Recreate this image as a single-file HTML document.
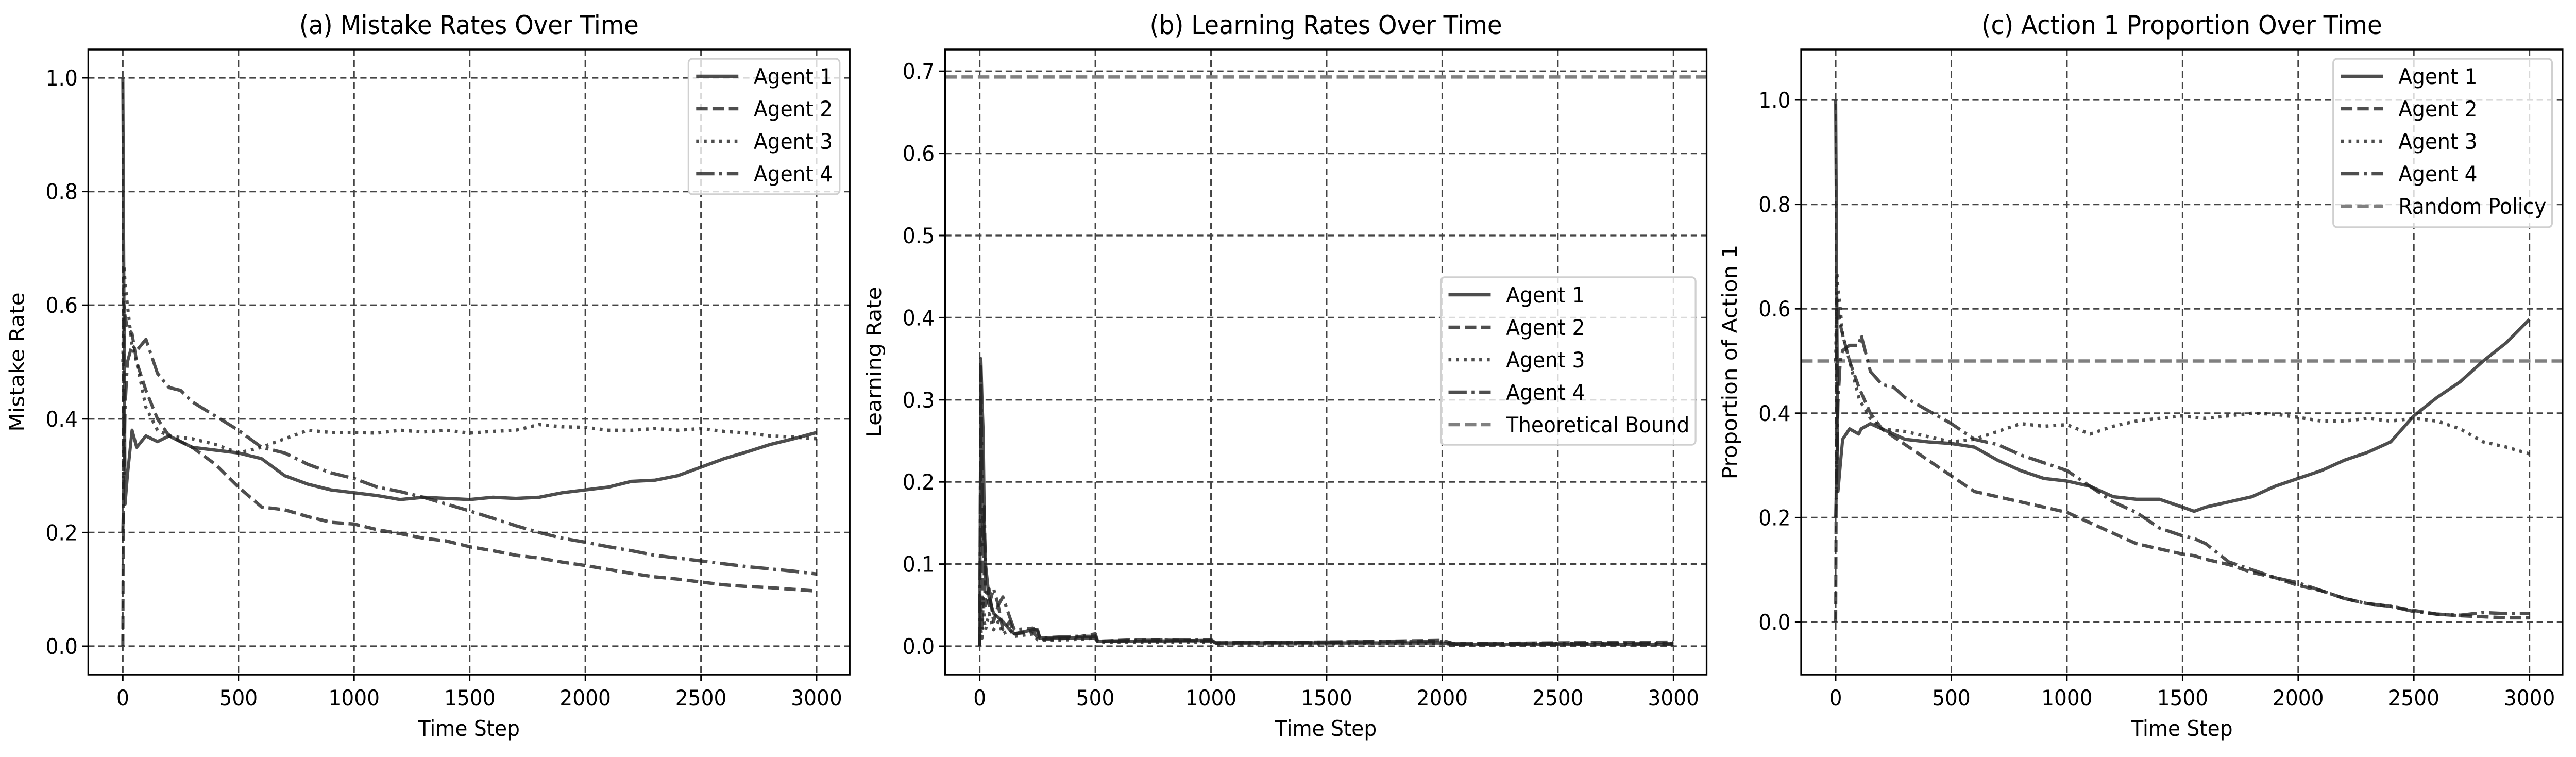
<!DOCTYPE html>
<html><head><meta charset="utf-8">
<meta name="viewport" content="width=5369">
<style>
html,body{margin:0;padding:0;background:#fff;width:100%;height:100%;overflow:hidden;}
svg{display:block;position:fixed;left:0;top:0;width:100vw;height:100vh;font-family:"DejaVu Sans","Liberation Sans",sans-serif;}
</style></head>
<body>
<svg id="fig" viewBox="0 0 5369 1469" preserveAspectRatio="none" xmlns="http://www.w3.org/2000/svg">
<rect width="5369" height="1469" fill="#fff"/>
</svg>
<script>
// ---------- data ----------
const stepsA = [0,5,10,20,40,60,100,150,200,250,300,400,500,600,700,800,900,1000,1100,1200,1300,1400,1500,1600,1700,1800,1900,2000,2100,2200,2300,2400,2500,2600,2700,2800,2900,3000];
const mistakeAgent1 = [1.0,0.6,0.25,0.30,0.38,0.35,0.37,0.36,0.37,0.36,0.35,0.345,0.34,0.33,0.30,0.285,0.275,0.27,0.265,0.258,0.262,0.26,0.258,0.262,0.26,0.262,0.27,0.275,0.28,0.29,0.292,0.30,0.315,0.33,0.342,0.355,0.365,0.376];
const mistakeAgent2 = [0.0,0.60,0.58,0.56,0.55,0.50,0.45,0.40,0.37,0.36,0.35,0.32,0.28,0.245,0.24,0.228,0.218,0.215,0.205,0.198,0.19,0.185,0.175,0.168,0.16,0.155,0.148,0.142,0.135,0.128,0.122,0.118,0.113,0.108,0.105,0.103,0.10,0.097];
const mistakeAgent3 = [0.5,0.67,0.64,0.60,0.53,0.50,0.42,0.38,0.37,0.367,0.365,0.355,0.34,0.35,0.365,0.38,0.376,0.376,0.375,0.38,0.377,0.38,0.375,0.378,0.38,0.39,0.386,0.385,0.38,0.38,0.383,0.38,0.383,0.378,0.375,0.37,0.368,0.365];
const mistakeAgent4 = [0.2,0.3,0.42,0.50,0.53,0.52,0.54,0.48,0.455,0.45,0.43,0.405,0.38,0.35,0.34,0.32,0.305,0.295,0.28,0.272,0.262,0.25,0.238,0.225,0.212,0.20,0.19,0.183,0.175,0.168,0.16,0.155,0.15,0.145,0.14,0.136,0.132,0.127];

const stepsB = [0,5,10,15,20,25,40,60,80,100,130,150,230,250,260,400,500,510,700,1000,1020,1500,2000,2050,2500,3000];
const lrAgent1 = [0.0,0.35,0.30,0.26,0.15,0.10,0.06,0.04,0.035,0.03,0.02,0.015,0.02,0.02,0.01,0.01,0.01,0.006,0.006,0.007,0.004,0.004,0.004,0.002,0.002,0.002];
const lrAgent2 = [0.0,0.05,0.02,0.17,0.08,0.05,0.07,0.03,0.05,0.02,0.03,0.015,0.018,0.01,0.008,0.01,0.015,0.006,0.008,0.006,0.004,0.005,0.007,0.003,0.004,0.005];
const lrAgent3 = [0.0,0.02,0.01,0.06,0.03,0.02,0.04,0.02,0.03,0.015,0.02,0.012,0.015,0.008,0.007,0.008,0.01,0.005,0.005,0.005,0.003,0.003,0.004,0.002,0.003,0.003];
const lrAgent4 = [0.0,0.34,0.20,0.12,0.17,0.07,0.05,0.07,0.05,0.06,0.035,0.02,0.022,0.018,0.01,0.012,0.012,0.006,0.007,0.008,0.004,0.005,0.006,0.003,0.003,0.003];
const theoreticalBound = 0.693;

const stepsC = [0,5,10,20,30,60,100,110,150,200,250,300,400,500,600,700,800,900,1000,1100,1200,1300,1400,1500,1550,1600,1700,1800,1900,2000,2100,2200,2300,2400,2500,2600,2700,2800,2900,3000];
const propAgent1 = [1.0,0.6,0.25,0.30,0.35,0.37,0.36,0.37,0.38,0.37,0.36,0.35,0.345,0.342,0.335,0.31,0.29,0.275,0.27,0.26,0.24,0.235,0.235,0.22,0.212,0.22,0.23,0.24,0.26,0.275,0.29,0.31,0.325,0.345,0.395,0.43,0.46,0.50,0.535,0.58];
const propAgent2 = [0.0,0.62,0.60,0.57,0.55,0.50,0.45,0.44,0.40,0.37,0.355,0.34,0.31,0.28,0.25,0.24,0.23,0.22,0.21,0.19,0.17,0.15,0.14,0.13,0.127,0.12,0.11,0.095,0.085,0.07,0.06,0.045,0.035,0.03,0.022,0.015,0.012,0.01,0.008,0.008];
const propAgent3 = [0.5,0.67,0.64,0.60,0.55,0.50,0.43,0.42,0.39,0.37,0.367,0.365,0.355,0.345,0.35,0.365,0.38,0.375,0.378,0.36,0.375,0.385,0.39,0.395,0.392,0.39,0.395,0.40,0.398,0.392,0.385,0.385,0.39,0.385,0.39,0.385,0.37,0.345,0.335,0.322];
const propAgent4 = [0.2,0.3,0.42,0.50,0.52,0.53,0.53,0.55,0.48,0.455,0.45,0.43,0.405,0.38,0.35,0.34,0.32,0.305,0.29,0.26,0.23,0.21,0.18,0.165,0.16,0.15,0.115,0.10,0.085,0.075,0.06,0.045,0.035,0.03,0.02,0.015,0.013,0.018,0.016,0.016];
const randomPolicy = 0.5;

const xTicks = [0,500,1000,1500,2000,2500,3000];
const yTicksA = ["0.0","0.2","0.4","0.6","0.8","1.0"];
const yTicksB = ["0.0","0.1","0.2","0.3","0.4","0.5","0.6","0.7"];
const yTicksC = ["0.0","0.2","0.4","0.6","0.8","1.0"];
const legendLabelsA = ["Agent 1","Agent 2","Agent 3","Agent 4"];
const legendLabelsB = ["Agent 1","Agent 2","Agent 3","Agent 4","Theoretical Bound"];
const legendLabelsC = ["Agent 1","Agent 2","Agent 3","Agent 4","Random Policy"];

// ---------- drawing ----------
const NS = "http://www.w3.org/2000/svg";
const svg = document.getElementById('fig');
function mk(tag, attrs, parent){
  const e = document.createElementNS(NS, tag);
  for (const k in attrs) e.setAttribute(k, attrs[k]);
  (parent||svg).appendChild(e);
  return e;
}
const styles = [
  {dash:"", w:6.5},
  {dash:"24 10", w:6.5},
  {dash:"6 10", w:6.5},
  {dash:"38 10 6 10", w:6.5}
];
const refStyle = {dash:"24 10", w:6.5, color:"#808080"};

function panel(cfg){
  const g = mk('g', {});
  
  
  const L=cfg.left, R=cfg.left+1587, T=96, B=1309;
  const xs = v => cfg.x0 + (v/3000)*1446;
  const ys = v => cfg.yZero - v*cfg.yUnit;
  const cid = 'clip-'+cfg.name;
  const cp = mk('clipPath', {id:cid}, g);
  mk('rect', {x:L, y:T, width:R-L, height:B-T}, cp);
  xTicks.forEach(t=>{
    const l = mk('line',{x1:xs(t),x2:xs(t),y1:T,y2:B,stroke:'#444','stroke-width':3.2,'stroke-dasharray':'13 8'},g);
    
    
  });
  cfg.yTicks.forEach(t=>{
    const v=parseFloat(t);
    const l = mk('line',{x1:L,x2:R,y1:ys(v),y2:ys(v),stroke:'#444','stroke-width':3.2,'stroke-dasharray':'13 8'},g);
    
    
  });
  const plot = mk('g',{'clip-path':'url(#'+cid+')'},g);
  if (cfg.ref!==undefined){
    const l = mk('line',{x1:L,x2:R,y1:ys(cfg.ref),y2:ys(cfg.ref),stroke:refStyle.color,'stroke-width':refStyle.w,'stroke-dasharray':refStyle.dash},plot);
    
    
  }
  cfg.series.forEach((vals,i)=>{
    const d = vals.map((v,j)=>(j?'L':'M')+xs(cfg.steps[j]).toFixed(1)+','+ys(v).toFixed(1)).join(' ');
    const p = mk('path',{d:d,fill:'none',stroke:'#222','stroke-opacity':0.8,'stroke-width':styles[i].w,'stroke-dasharray':styles[i].dash,'stroke-linejoin':'round'},plot);
    
    
  });
  const fr = mk('rect',{x:L,y:T,width:R-L,height:B-T,fill:'none',stroke:'#000','stroke-width':3.5},g);
  
  
  xTicks.forEach(t=>{
    mk('line',{x1:xs(t),x2:xs(t),y1:B,y2:B+13,stroke:'#000','stroke-width':3},g);
    const tx = mk('text',{x:xs(t),y:B+60,'font-size':42,'text-anchor':'middle'},g);
    tx.textContent = t;
    
    
  });
  cfg.yTicks.forEach(t=>{
    const v=parseFloat(t);
    mk('line',{x1:L-13,x2:L,y1:ys(v),y2:ys(v),stroke:'#000','stroke-width':3},g);
    const tx = mk('text',{x:L-22,y:ys(v)+15,'font-size':42,'text-anchor':'end'},g);
    tx.textContent = t;
    
    
  });
  const title = mk('text',{x:(L+R)/2,y:66,'font-size':50,'text-anchor':'middle'},g);
  title.textContent = cfg.title;
  
  
  const xl = mk('text',{x:(L+R)/2,y:1428,'font-size':42,'text-anchor':'middle'},g);
  xl.textContent = 'Time Step';
  
  
  const yl = mk('text',{x:0,y:0,'font-size':42,'text-anchor':'middle',transform:'translate('+(cfg.ylabX)+','+((T+B)/2)+') rotate(-90)'},g);
  yl.textContent = cfg.ylabel;
  
  
  const lg = mk('g',{},g);
  
  
  const lb = cfg.legend;
  mk('rect',{x:lb.x1,y:lb.y1,width:lb.x2-lb.x1,height:lb.y2-lb.y1,rx:8,fill:'#fff','fill-opacity':0.8,stroke:'#d0d0d0','stroke-width':3.5},lg);
  cfg.legendLabels.forEach((lab,i)=>{
    const y = lb.y1+34+i*63;
    const st = i<4 ? {dash:styles[i].dash,color:'#222',op:0.8} : {dash:refStyle.dash,color:'#808080',op:1};
    mk('line',{x1:lb.x1+16,x2:lb.x1+104,y1:y,y2:y,stroke:st.color,'stroke-opacity':st.op,'stroke-width':6.5,'stroke-dasharray':st.dash},lg);
    const tx = mk('text',{x:lb.x1+136,y:y+15,'font-size':42},lg);
    tx.textContent = lab;
    
    
  });
}

panel({name:'panel-mistake-rates', left:184, x0:256, yZero:1254, yUnit:1103, steps:stepsA,
  series:[mistakeAgent1,mistakeAgent2,mistakeAgent3,mistakeAgent4], yTicks:yTicksA,
  title:'(a) Mistake Rates Over Time', ylabel:'Mistake Rate', ylabX:50,
  legend:{x1:1435,y1:114,x2:1750,y2:377}, legendLabels:legendLabelsA});
panel({name:'panel-learning-rates', left:1970, x0:2042, yZero:1254, yUnit:1594, steps:stepsB,
  series:[lrAgent1,lrAgent2,lrAgent3,lrAgent4], yTicks:yTicksB, ref:theoreticalBound,
  title:'(b) Learning Rates Over Time', ylabel:'Learning Rate', ylabX:1836,
  legend:{x1:3003,y1:538,x2:3534,y2:863}, legendLabels:legendLabelsB});
panel({name:'panel-action-proportion', left:3754, x0:3826, yZero:1207, yUnit:1013, steps:stepsC,
  series:[propAgent1,propAgent2,propAgent3,propAgent4], yTicks:yTicksC, ref:randomPolicy,
  title:'(c) Action 1 Proportion Over Time', ylabel:'Proportion of Action 1', ylabX:3620,
  legend:{x1:4863,y1:114,x2:5319,y2:441}, legendLabels:legendLabelsC});
</script>
</body></html>
